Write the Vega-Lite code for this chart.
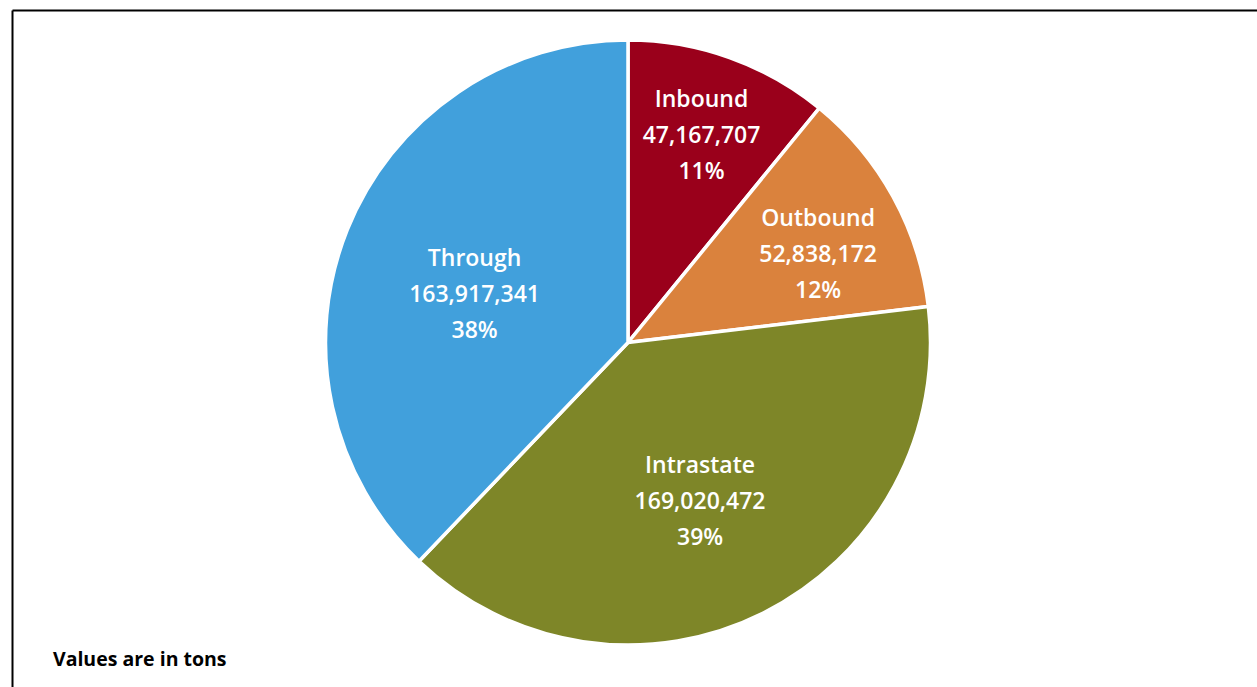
{
  "$schema": "https://vega.github.io/schema/vega-lite/v6.json",
  "width": 1232,
  "height": 665,
  "autosize": {"type": "none"},
  "padding": {"left": 12, "top": 10, "right": 13, "bottom": 12},
  "background": "white",
  "config": {"view": {"stroke": null}},
  "data": {
    "values": [
      {"cat": "Inbound", "tons": 47167707, "idx": 1},
      {"cat": "Outbound", "tons": 52838172, "idx": 2},
      {"cat": "Intrastate", "tons": 169020472, "idx": 3},
      {"cat": "Through", "tons": 163917341, "idx": 4}
    ]
  },
  "transform": [
    {"joinaggregate": [{"op": "sum", "field": "tons", "as": "total"}]},
    {"calculate": "datum.cat + '\\n' + format(datum.tons, ',') + '\\n' + format(datum.tons / datum.total, '.0%')", "as": "label"}
  ],
  "layer": [
    {
      "mark": {"type": "arc", "outerRadius": 302.5, "stroke": "white", "strokeWidth": 3.5},
      "encoding": {
        "theta": {"field": "tons", "type": "quantitative", "stack": true},
        "order": {"field": "idx", "type": "quantitative"},
        "color": {
          "field": "cat",
          "type": "nominal",
          "scale": {
            "domain": ["Inbound", "Outbound", "Intrastate", "Through"],
            "range": ["#9A001B", "#DA823D", "#7E8628", "#41A0DC"]
          },
          "legend": null
        }
      }
    },
    {
      "mark": {"type": "text", "radius": 219, "dy": -36, "font": "Open Sans", "fontSize": 23, "fontWeight": 600, "color": "white", "align": "center", "baseline": "middle", "lineBreak": "\n", "lineHeight": 36},
      "encoding": {
        "theta": {"field": "tons", "type": "quantitative", "stack": true},
        "order": {"field": "idx", "type": "quantitative"},
        "text": {"condition": {"test": "datum.cat === 'Inbound'", "field": "label"}, "value": ""}
      }
    },
    {
      "mark": {"type": "text", "radius": 209, "dx": 7, "dy": -23, "font": "Open Sans", "fontSize": 23, "fontWeight": 600, "color": "white", "align": "center", "baseline": "middle", "lineBreak": "\n", "lineHeight": 36},
      "encoding": {
        "theta": {"field": "tons", "type": "quantitative", "stack": true},
        "order": {"field": "idx", "type": "quantitative"},
        "text": {"condition": {"test": "datum.cat === 'Outbound'", "field": "label"}, "value": ""}
      }
    },
    {
      "mark": {"type": "text", "radius": 174.5, "dx": -6, "dy": -33, "font": "Open Sans", "fontSize": 23, "fontWeight": 600, "color": "white", "align": "center", "baseline": "middle", "lineBreak": "\n", "lineHeight": 36},
      "encoding": {
        "theta": {"field": "tons", "type": "quantitative", "stack": true},
        "order": {"field": "idx", "type": "quantitative"},
        "text": {"condition": {"test": "datum.cat === 'Intrastate'", "field": "label"}, "value": ""}
      }
    },
    {
      "mark": {"type": "text", "radius": 161, "dx": -4, "dy": -24, "font": "Open Sans", "fontSize": 23, "fontWeight": 600, "color": "white", "align": "center", "baseline": "middle", "lineBreak": "\n", "lineHeight": 36},
      "encoding": {
        "theta": {"field": "tons", "type": "quantitative", "stack": true},
        "order": {"field": "idx", "type": "quantitative"},
        "text": {"condition": {"test": "datum.cat === 'Through'", "field": "label"}, "value": ""}
      }
    },
    {
      "data": {"values": [{"note": "Values are in tons"}]},
      "mark": {"type": "text", "font": "Open Sans", "fontSize": 19.5, "fontWeight": "bold", "color": "black", "align": "left", "baseline": "alphabetic"},
      "encoding": {
        "x": {
          "datum": 0.0329,
          "type": "quantitative",
          "scale": {"domain": [0, 1], "range": [0, 1245], "nice": false, "zero": false},
          "axis": {"orient": "top", "domainColor": "black", "domainWidth": 2, "ticks": false, "labels": false, "grid": false, "title": null}
        },
        "y": {
          "datum": 0.031,
          "type": "quantitative",
          "scale": {"domain": [0, 1], "range": [677, 0], "nice": false, "zero": false},
          "axis": {"orient": "left", "domainColor": "black", "domainWidth": 2, "ticks": false, "labels": false, "grid": false, "title": null}
        },
        "text": {"field": "note"}
      }
    }
  ]
}
